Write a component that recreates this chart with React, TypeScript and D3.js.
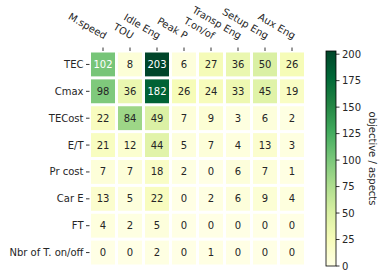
import * as d3 from "d3";

const rowLabels = ["TEC", "Cmax", "TECost", "E/T", "Pr cost", "Car E", "FT", "Nbr of T. on/off"];
const colLabels = ["M.speed", "TOU", "Idle Eng", "Peak P", "T.on/of", "Transp Eng", "Setup Eng", "Aux Eng"];

const tecValues = [102, 8, 203, 6, 27, 36, 50, 26];
const cmaxValues = [98, 36, 182, 26, 24, 33, 45, 19];
const tecostValues = [22, 84, 49, 7, 9, 3, 6, 2];
const etValues = [21, 12, 44, 5, 7, 4, 13, 3];
const prCostValues = [7, 7, 18, 2, 0, 6, 7, 1];
const carEValues = [13, 5, 22, 0, 2, 6, 9, 4];
const ftValues = [4, 2, 5, 0, 0, 0, 0, 0];
const nbrValues = [0, 0, 2, 0, 1, 0, 0, 0];

const colorbarTicks = [0, 25, 50, 75, 100, 125, 150, 175, 200];

const matrix = [tecValues, cmaxValues, tecostValues, etValues, prCostValues, carEValues, ftValues, nbrValues];

const FONT = "DejaVu Sans, sans-serif";

export default function App() {
	const width = 382;
	const height = 280;
	const grid = { left: 89.5, right: 305.5, top: 51, bottom: 266 };
	const gap = 3;

	const x = d3.scaleBand<string>().domain(colLabels).range([grid.left, grid.right]);
	const y = d3.scaleBand<string>().domain(rowLabels).range([grid.top, grid.bottom]);

	const vmax = d3.max(matrix.flat()) ?? 1;
	const ylgn = d3.schemeYlGn[9];
	const color = d3
		.scaleLinear<string>()
		.domain(d3.range(ylgn.length).map((i) => (i / (ylgn.length - 1)) * vmax))
		.range(ylgn)
		.interpolate(d3.interpolateRgb);

	// colorbar
	const cb = { x: 326, w: 10 };
	const cbScale = d3.scaleLinear().domain([0, vmax]).range([grid.bottom, grid.top]);

	const cells = matrix.flatMap((row, ri) =>
		row.map((v, ci) => ({ v, row: rowLabels[ri], col: colLabels[ci] })),
	);

	return (
		<svg
			width={width}
			height={height}
			style={{ position: "absolute", left: 0, top: 0, background: "#fff" }}
			fontFamily={FONT}
		>
			<defs>
				<linearGradient id="cbGrad" x1="0" y1="1" x2="0" y2="0">
					{ylgn.map((c, i) => (
						<stop key={i} offset={i / (ylgn.length - 1)} stopColor={c} />
					))}
				</linearGradient>
			</defs>

			{/* cells */}
			{cells.map((d) => {
				const cx = x(d.col) ?? 0;
				const cy = y(d.row) ?? 0;
				return (
					<g key={`${d.row}-${d.col}`}>
						<rect
							x={cx + gap / 2}
							y={cy + gap / 2}
							width={x.bandwidth() - gap}
							height={y.bandwidth() - gap}
							fill={color(d.v)}
						/>
						<text
							x={cx + x.bandwidth() / 2}
							y={cy + y.bandwidth() / 2}
							dy="0.35em"
							textAnchor="middle"
							fontSize={10}
							fill={d.v > 100 ? "#ffffff" : "#262626"}
						>
							{d.v}
						</text>
					</g>
				);
			})}

			{/* row labels */}
			{rowLabels.map((r) => {
				const cy = (y(r) ?? 0) + y.bandwidth() / 2;
				return (
					<g key={r}>
						<line x1={grid.left - 3.5} x2={grid.left} y1={cy} y2={cy} stroke="#000" strokeWidth={0.8} />
						<text x={grid.left - 6} y={cy} dy="0.35em" textAnchor="end" fontSize={10} fill="#262626">
							{r}
						</text>
					</g>
				);
			})}

			{/* column labels */}
			{colLabels.map((c) => {
				const cx = (x(c) ?? 0) + x.bandwidth() / 2;
				return (
					<g key={c}>
						<line x1={cx} x2={cx} y1={grid.top - 3.5} y2={grid.top} stroke="#000" strokeWidth={0.8} />
						<text
							transform={`translate(${cx + 1},${grid.top - 11.5}) rotate(30)`}
							textAnchor="end"
							fontSize={10}
							fill="#262626"
						>
							{c}
						</text>
					</g>
				);
			})}

			{/* colorbar */}
			<rect
				x={cb.x}
				y={grid.top}
				width={cb.w}
				height={grid.bottom - grid.top}
				fill="url(#cbGrad)"
				stroke="#000"
				strokeWidth={0.8}
			/>
			{colorbarTicks.map((t) => {
				const ty = cbScale(t);
				return (
					<g key={t}>
						<line x1={cb.x + cb.w} x2={cb.x + cb.w + 3.5} y1={ty} y2={ty} stroke="#000" strokeWidth={0.8} />
						<text x={cb.x + cb.w + 6} y={ty} dy="0.35em" fontSize={10} fill="#262626">
							{t}
						</text>
					</g>
				);
			})}
			<text
				transform={`translate(369,${(grid.top + grid.bottom) / 2}) rotate(90)`}
				textAnchor="middle"
				fontSize={10}
				fill="#262626"
			>
				objective / aspects
			</text>
		</svg>
	);
}
